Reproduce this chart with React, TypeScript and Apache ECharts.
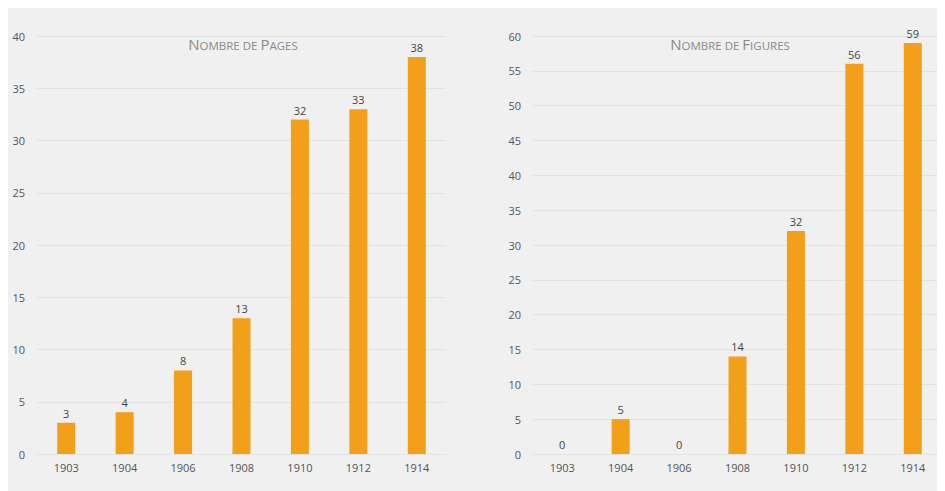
import React, { useEffect, useRef } from "react";
import * as echarts from "echarts";

const years = ["1903", "1904", "1906", "1908", "1910", "1912", "1914"];
const pages = [3, 4, 8, 13, 32, 33, 38];
const figures = [0, 5, 0, 14, 32, 56, 59];

const FONT = "'Open Sans', sans-serif";
const BAR = "#F29F1A";
const GRID_LINE = "#e2e2e2";
const LABEL = "#555";

function App() {
  const ref = useRef<HTMLDivElement>(null);
  useEffect(() => {
    const chart = echarts.init(ref.current!, null, { renderer: "svg" });
    const titleRich = {
      a: { fontSize: 15, color: "#8a8a8a", fontFamily: FONT, fontWeight: "normal" as const, verticalAlign: "bottom" as const },
      b: { fontSize: 11.5, color: "#8a8a8a", fontFamily: FONT, fontWeight: "normal" as const, verticalAlign: "bottom" as const },
    };
    const xAxisBase = (gridIndex: number) => ({
      type: "category" as const,
      gridIndex,
      data: years,
      axisLine: { lineStyle: { color: GRID_LINE } },
      axisTick: { show: false },
      axisLabel: { color: LABEL, fontSize: 11, fontFamily: FONT, margin: 8 },
    });
    const yAxisBase = (gridIndex: number, max: number) => ({
      type: "value" as const,
      gridIndex,
      min: 0,
      max,
      interval: 5,
      axisLine: { show: false },
      axisTick: { show: false },
      axisLabel: { color: LABEL, fontSize: 11, fontFamily: FONT, margin: 12 },
      splitLine: { lineStyle: { color: GRID_LINE } },
    });
    const seriesBase = (idx: number, data: number[]) => ({
      type: "bar" as const,
      xAxisIndex: idx,
      yAxisIndex: idx,
      data,
      barWidth: 18,
      itemStyle: { color: BAR },
      label: {
        show: true,
        position: "top" as const,
        color: "#444",
        fontSize: 11,
        fontFamily: FONT,
        distance: 4,
      },
    });
    chart.setOption({
      animation: false,
      backgroundColor: "#f0f0f0",
      title: [
        {
          text: "{a|N}{b|OMBRE DE }{a|P}{b|AGES}",
          left: 230,
          top: 23,
          textAlign: "center",
          textStyle: { fontWeight: "normal", rich: titleRich },
        },
        {
          text: "{a|N}{b|OMBRE DE }{a|F}{b|IGURES}",
          left: 717,
          top: 23,
          textAlign: "center",
          textStyle: { fontWeight: "normal", rich: titleRich },
        },
      ],
      grid: [
        { left: 29, top: 28, width: 409, height: 418 },
        { left: 525, top: 28, width: 409, height: 418 },
      ],
      xAxis: [xAxisBase(0), xAxisBase(1)],
      yAxis: [yAxisBase(0, 40), yAxisBase(1, 60)],
      series: [seriesBase(0, pages), seriesBase(1, figures)],
    });
    return () => chart.dispose();
  }, []);
  return <div ref={ref} style={{ width: 937, height: 483 }} />;
}

export default App;
